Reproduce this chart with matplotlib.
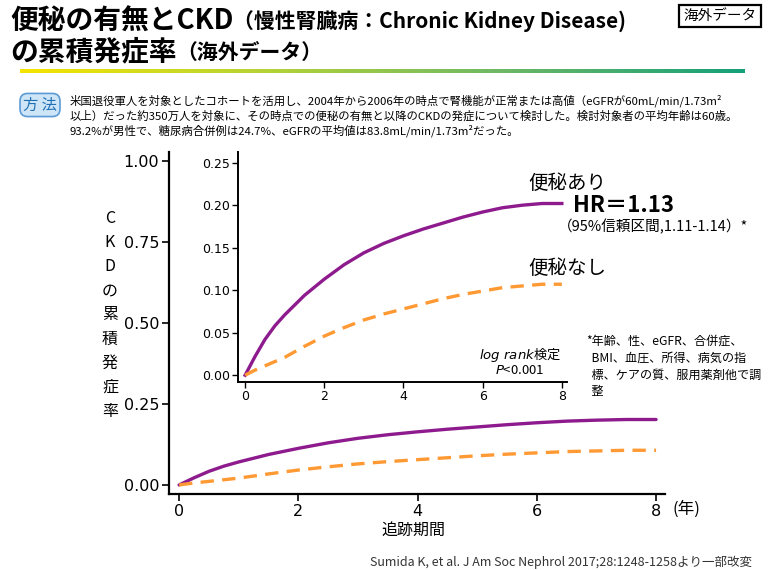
import numpy as np
import matplotlib
matplotlib.use("Agg")
import matplotlib.pyplot as plt
from matplotlib.colors import LinearSegmentedColormap

plt.rcParams['font.family'] = ['Noto Sans CJK JP', 'DejaVu Sans']

# ---------------- data ----------------
years = [0, 0.25, 0.5, 0.75, 1, 1.5, 2, 2.5, 3, 3.5, 4, 4.5, 5, 5.5, 6, 6.5, 7, 7.5, 8]
with_constipation = [0.0, 0.022, 0.042, 0.058, 0.071, 0.094, 0.113, 0.130, 0.144,
                     0.155, 0.164, 0.172, 0.179, 0.186, 0.192, 0.197, 0.200, 0.202, 0.202]
without_constipation = [0.0, 0.006, 0.011, 0.016, 0.021, 0.034, 0.046, 0.056, 0.065,
                        0.072, 0.078, 0.084, 0.090, 0.095, 0.099, 0.103, 0.105, 0.107, 0.107]
main_yticks = [0.0, 0.25, 0.5, 0.75, 1.0]
main_yticklabels = ['0.00', '0.25', '0.50', '0.75', '1.00']
inset_yticks = [0.0, 0.05, 0.10, 0.15, 0.20, 0.25]
inset_yticklabels = ['0.00', '0.05', '0.10', '0.15', '0.20', '0.25']
xticks = [0, 2, 4, 6, 8]

PURPLE = '#8E1B8E'
ORANGE = '#FF9933'
W, H = 780, 570

fig = plt.figure(figsize=(7.8, 5.7), dpi=100)
fig.patch.set_facecolor('white')

def fx(px):
    return px / W

def fy(py):
    return 1 - py / H

# ---------------- title ----------------
renderer = fig.canvas.get_renderer()

def chain(parts, x, y):
    for txt, size in parts:
        t = fig.text(fx(x), fy(y), txt, fontsize=size, fontweight='bold',
                     va='center', ha='left', color='black')
        bb = t.get_window_extent(renderer=renderer)
        x = x + bb.width

chain([('便秘の有無とCKD', 20), ('（慢性腎臓病：Chronic Kidney Disease)', 15)], 10, 22)
chain([('の累積発症率', 20), ('（海外データ）', 15)], 10, 52)

# top-right box
fig.text(fx(720), fy(16), '海外データ', fontsize=10.5, ha='center', va='center',
         bbox=dict(boxstyle='square,pad=0.3', fc='white', ec='black', lw=1.6))

# gradient line
grad_ax = fig.add_axes([fx(20), fy(73), fx(725), 4 / H])
grad_ax.axis('off')
cmap = LinearSegmentedColormap.from_list('g', ['#F5E400', '#B5D335', '#6DB865', '#14A07A'])
grad_ax.imshow(np.linspace(0, 1, 256)[None, :], aspect='auto', cmap=cmap,
               extent=[0, 1, 0, 1])

# method box
fig.text(fx(40), fy(105), '方 法', fontsize=11, ha='center', va='center', color='#1F6FB5',
         bbox=dict(boxstyle='round,pad=0.2,rounding_size=0.5', fc='#CDE5F7', ec='#5B9BD5', lw=1.2))
method_lines = [
    '米国退役軍人を対象としたコホートを活用し、2004年から2006年の時点で腎機能が正常または高値（eGFRが60mL/min/1.73m²',
    '以上）だった約350万人を対象に、その時点での便秘の有無と以降のCKDの発症について検討した。検討対象者の平均年齢は60歳。',
    '93.2%が男性で、糖尿病合併例は24.7%、eGFRの平均値は83.8mL/min/1.73m²だった。',
]
for i, line in enumerate(method_lines):
    fig.text(fx(70), fy(101 + i * 15), line, fontsize=8.2, ha='left', va='center')

# ---------------- main axes ----------------
ax = fig.add_axes([fx(169), fy(494), fx(665 - 169), (494 - 152) / H])
ax.set_xlim(-0.17, 8.15)
ax.set_ylim(-0.028, 1.028)
ax.plot(years, with_constipation, color=PURPLE, lw=2.4, solid_capstyle='round')
ax.plot(years, without_constipation, color=ORANGE, lw=2.4, ls=(0, (4, 2.5)))
for s in ['top', 'right']:
    ax.spines[s].set_visible(False)
for s in ['left', 'bottom']:
    ax.spines[s].set_linewidth(1.6)
ax.set_yticks(main_yticks)
ax.set_yticklabels(main_yticklabels, fontsize=11.5, family=['DejaVu Sans'])
ax.set_xticks(xticks)
ax.set_xticklabels([str(v) for v in xticks], fontsize=11.5, family=['DejaVu Sans'])
ax.tick_params(axis='both', length=5, width=1.2, color='black', pad=2)
ax.patch.set_alpha(0)

# vertical y label
for i, ch in enumerate(['C', 'K', 'D', 'の', '累', '積', '発', '症', '率']):
    fig.text(fx(110), fy(218 + i * 24.2), ch, fontsize=11.5, ha='center', va='center')

fig.text(fx(686), fy(509), '(年)', fontsize=12, ha='center', va='center')
fig.text(fx(413), fy(530), '追跡期間', fontsize=11.5, ha='center', va='center')

# ---------------- inset axes ----------------
ins = fig.add_axes([fx(238), fy(382), fx(567 - 238), (382 - 152) / H])
ins.set_xlim(-0.18, 8.13)
ins.set_ylim(-0.008, 0.2626)
ins.plot(years, with_constipation, color=PURPLE, lw=2.4)
ins.plot(years, without_constipation, color=ORANGE, lw=2.4, ls=(0, (4, 2.5)))
for s in ['top', 'right']:
    ins.spines[s].set_visible(False)
for s in ['left', 'bottom']:
    ins.spines[s].set_linewidth(1.4)
ins.set_yticks(inset_yticks)
ins.set_yticklabels(inset_yticklabels, fontsize=9, family=['DejaVu Sans'])
ins.set_xticks(xticks)
ins.set_xticklabels([str(v) for v in xticks], fontsize=9, family=['DejaVu Sans'])
ins.tick_params(axis='both', length=4, width=1.0, color='black', pad=2)
ins.patch.set_alpha(0)

# annotations
fig.text(fx(528), fy(183), '便秘あり', fontsize=14, ha='left', va='center')
fig.text(fx(573), fy(205), 'HR＝1.13', fontsize=16, fontweight='bold', ha='left', va='center')
fig.text(fx(558), fy(227), '（95%信頼区間,1.11-1.14）*', fontsize=10.5, ha='left', va='center')
fig.text(fx(528), fy(268), '便秘なし', fontsize=14, ha='left', va='center')
fig.text(fx(520), fy(354), r'$\it{log\ rank}$検定', fontsize=9.5, ha='center', va='center')
fig.text(fx(520), fy(371), r'$\it{P}$<0.001', fontsize=9.5, ha='center', va='center')

foot = ['*年齢、性、eGFR、合併症、', '  BMI、血圧、所得、病気の指', '  標、ケアの質、服用薬剤他で調', '  整']
for i, line in enumerate(foot):
    fig.text(fx(586), fy(341 + i * 17), line, fontsize=8.7, ha='left', va='center')

fig.text(fx(752), fy(562), 'Sumida K, et al. J Am Soc Nephrol 2017;28:1248-1258より一部改変',
         fontsize=9, ha='right', va='center', color='#333333')

fig.savefig('out.png', dpi=100)
